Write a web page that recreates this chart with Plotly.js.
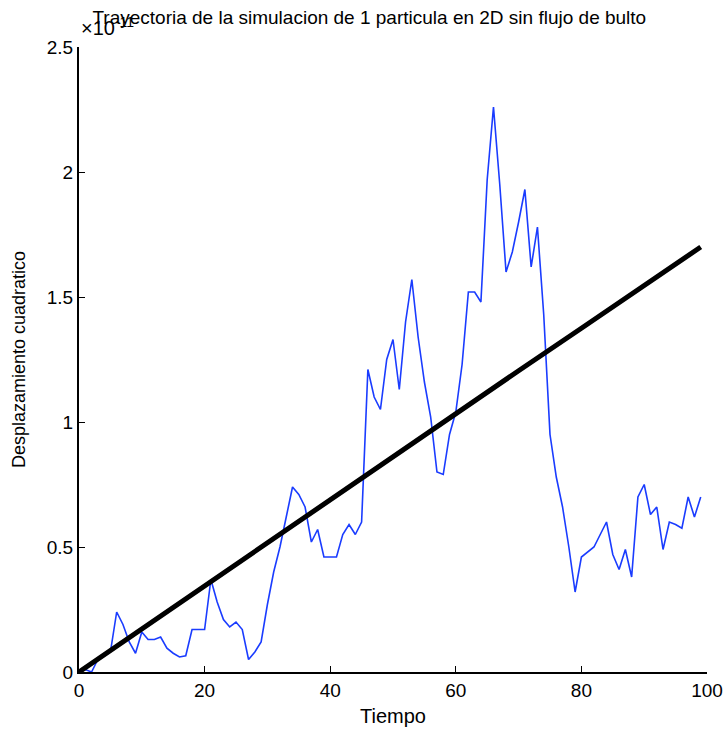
<!DOCTYPE html>
<html>
<head>
<meta charset="utf-8">
<script src="https://cdn.plot.ly/plotly-3.0.1.min.js"></script>
<style>html,body{margin:0;padding:0;background:#fff;}</style>
</head>
<body>
<div id="chart" style="width:727px;height:732px;"></div>
<script>
const chartTitle = "Trayectoria de la simulacion de 1 particula en 2D sin flujo de bulto";
const xLabel = "Tiempo";
const yLabel = "Desplazamiento cuadratico";
const xTicks = [0, 20, 40, 60, 80, 100];
const yTicks = [0, 0.5, 1, 1.5, 2, 2.5];
const yTickText = ["0", "0.5", "1", "1.5", "2", "2.5"];

// Blue trajectory (units of 1e-11), one value per time step 0..99
const blueT = [...Array(100).keys()];
const blueV = [
  0.00, 0.01, 0.00, 0.05, 0.065, 0.08, 0.24, 0.19, 0.12, 0.075,
  0.16, 0.13, 0.13, 0.14, 0.095, 0.075, 0.06, 0.065, 0.17, 0.17,
  0.17, 0.37, 0.28, 0.21, 0.18, 0.20, 0.17, 0.05, 0.08, 0.12,
  0.27, 0.40, 0.50, 0.62, 0.74, 0.71, 0.66, 0.52, 0.57, 0.46,
  0.46, 0.46, 0.55, 0.59, 0.55, 0.60, 1.21, 1.10, 1.05, 1.25,
  1.33, 1.13, 1.40, 1.57, 1.34, 1.16, 1.02, 0.80, 0.79, 0.95,
  1.04, 1.23, 1.52, 1.52, 1.48, 1.97, 2.26, 1.95, 1.60, 1.68,
  1.80, 1.93, 1.62, 1.78, 1.43, 0.95, 0.78, 0.66, 0.50, 0.32,
  0.46, 0.48, 0.50, 0.55, 0.60, 0.47, 0.41, 0.49, 0.38, 0.70,
  0.75, 0.63, 0.66, 0.49, 0.60, 0.59, 0.575, 0.70, 0.62, 0.70
];

// Black mean line (units of 1e-11)
const blackT = [0, 10, 20, 30, 40, 50, 60, 70, 80, 90, 99];
const blackV = [0.0, 0.173, 0.346, 0.518, 0.69, 0.862, 1.034, 1.205, 1.375, 1.545, 1.70];

const font = "Liberation Sans, Arial, sans-serif";

const traces = [
  {x: blueT, y: blueV, type: "scatter", mode: "lines",
   line: {color: "#1a3cff", width: 1.6}, hoverinfo: "skip"},
  {x: blackT, y: blackV, type: "scatter", mode: "lines",
   line: {color: "#000000", width: 5}, hoverinfo: "skip"}
];

const layout = {
  width: 727, height: 732,
  margin: {l: 79, r: 20, t: 47, b: 60},
  paper_bgcolor: "#ffffff", plot_bgcolor: "#ffffff",
  showlegend: false,
  font: {family: font, size: 19, color: "#000"},
  title: {text: chartTitle, x: 0.508, xanchor: "center", y: 0.986, yanchor: "top",
          font: {family: font, size: 19, color: "#000"}},
  xaxis: {
    range: [0, 100], tickvals: xTicks, ticks: "inside", ticklen: 6,
    tickcolor: "#000", showline: true, linecolor: "#000", linewidth: 2,
    showgrid: false, zeroline: false, mirror: false,
    title: {text: xLabel, standoff: 9, font: {family: font, size: 20}},
    tickfont: {family: font, size: 19}
  },
  yaxis: {
    range: [0, 2.5], tickvals: yTicks, ticktext: yTickText, ticks: "inside", ticklen: 6,
    tickcolor: "#000", showline: true, linecolor: "#000", linewidth: 2,
    showgrid: false, zeroline: false, mirror: false,
    title: {text: yLabel, standoff: 16, font: {family: font, size: 18}},
    tickfont: {family: font, size: 19}
  },
  annotations: [{
    text: "×10<sup>-11</sup>", xref: "paper", yref: "paper", x: 0, y: 1,
    xanchor: "left", yanchor: "bottom", yshift: 6, showarrow: false,
    font: {family: font, size: 20, color: "#000"}
  }]
};

Plotly.newPlot("chart", traces, layout, {displayModeBar: false, staticPlot: true});
</script>
</body>
</html>
